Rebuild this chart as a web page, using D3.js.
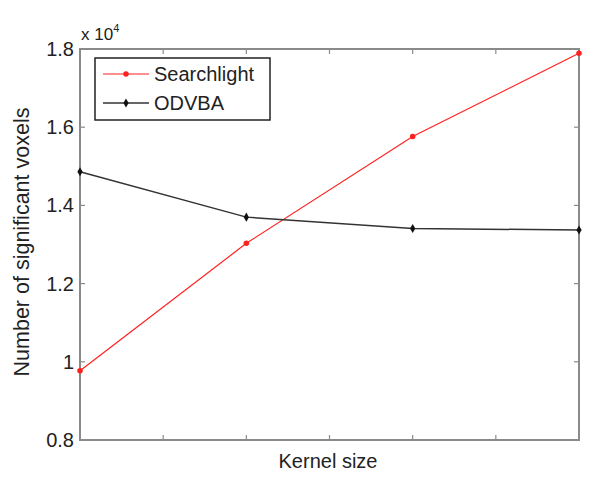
<!DOCTYPE html>
<html>
<head>
<meta charset="utf-8">
<script src="https://cdn.jsdelivr.net/npm/d3@7"></script>
<style>
  body { margin: 0; background: #fff; }
  text { font-family: "Liberation Sans", Arial, sans-serif; fill: #222; }
</style>
</head>
<body>
<div id="chart"></div>
<script>
// data (y values in units of 10^4)
var kernelSizes = [1, 2, 3, 4];
var searchlight = [0.977, 1.303, 1.576, 1.789];
var odvba = [1.486, 1.370, 1.341, 1.337];
var yTicks = [0.8, 1, 1.2, 1.4, 1.6, 1.8];
var xTicks = [1, 1.5, 2, 2.5, 3, 3.5, 4];

var width = 600, height = 485;
var plotLeft = 80, plotRight = 579, plotTop = 49, plotBottom = 440;

var svg = d3.select("#chart").append("svg")
    .attr("width", width)
    .attr("height", height);

var x = d3.scaleLinear().domain([1, 4]).range([plotLeft, plotRight]);
var y = d3.scaleLinear().domain([0.8, 1.8]).range([plotBottom, plotTop]);

var axisColor = "#8a8a8a";

// box
svg.append("rect")
    .attr("x", plotLeft).attr("y", plotTop)
    .attr("width", plotRight - plotLeft).attr("height", plotBottom - plotTop)
    .attr("fill", "none")
    .attr("stroke", axisColor)
    .attr("stroke-width", 2);

// ticks (inward, matlab style)
var tickLen = 5;
xTicks.slice(1, -1).forEach(function(t) {
    svg.append("line").attr("x1", x(t)).attr("x2", x(t))
        .attr("y1", plotBottom).attr("y2", plotBottom - tickLen)
        .attr("stroke", axisColor).attr("stroke-width", 1.2);
    svg.append("line").attr("x1", x(t)).attr("x2", x(t))
        .attr("y1", plotTop).attr("y2", plotTop + tickLen)
        .attr("stroke", axisColor).attr("stroke-width", 1.2);
});
yTicks.slice(1, -1).forEach(function(t) {
    svg.append("line").attr("x1", plotLeft).attr("x2", plotLeft + tickLen)
        .attr("y1", y(t)).attr("y2", y(t))
        .attr("stroke", axisColor).attr("stroke-width", 1.2);
    svg.append("line").attr("x1", plotRight).attr("x2", plotRight - tickLen)
        .attr("y1", y(t)).attr("y2", y(t))
        .attr("stroke", axisColor).attr("stroke-width", 1.2);
});

// y tick labels
svg.selectAll(".ylab")
    .data(yTicks)
    .enter().append("text")
    .attr("class", "ylab")
    .attr("x", plotLeft - 6)
    .attr("y", function(d) { return y(d); })
    .attr("dy", "0.35em")
    .attr("text-anchor", "end")
    .attr("font-size", "20px")
    .text(function(d) { return d; });

// exponent
svg.append("text")
    .attr("x", plotLeft + 1).attr("y", plotTop - 9)
    .attr("font-size", "17px")
    .text("x 10")
    .append("tspan")
    .attr("dy", -8)
    .attr("font-size", "11px")
    .text("4");

// axis titles
svg.append("text")
    .attr("x", 328)
    .attr("y", 468)
    .attr("text-anchor", "middle")
    .attr("font-size", "20px")
    .text("Kernel size");

svg.append("text")
    .attr("transform", "translate(29,242) rotate(-90)")
    .attr("text-anchor", "middle")
    .attr("font-size", "21.5px")
    .text("Number of significant voxels");

// lines
var line = d3.line()
    .x(function(d, i) { return x(kernelSizes[i]); })
    .y(function(d) { return y(d); });

var series = [
    { name: "Searchlight", values: searchlight, color: "#ff2020", marker: "circle" },
    { name: "ODVBA", values: odvba, color: "#333333", marker: "diamond" }
];

function marker(s) {
    return s.marker == "circle"
        ? d3.symbol().type(d3.symbolCircle).size(24)()
        : d3.symbol().type(d3.symbolDiamond).size(24)();
}

series.forEach(function(s) {
    svg.append("path")
        .datum(s.values)
        .attr("d", line)
        .attr("fill", "none")
        .attr("stroke", s.color)
        .attr("stroke-width", s.marker == "circle" ? 1.2 : 1.5);
    svg.selectAll(".m-" + s.name)
        .data(s.values)
        .enter().append("path")
        .attr("transform", function(d, i) { return "translate(" + x(kernelSizes[i]) + "," + y(d) + ")"; })
        .attr("d", marker(s))
        .attr("fill", s.color == "#333333" ? "#111" : s.color);
});

// legend
var lg = svg.append("g");
lg.append("rect")
    .attr("x", 95).attr("y", 58)
    .attr("width", 175).attr("height", 62)
    .attr("fill", "#fff")
    .attr("stroke", "#222")
    .attr("stroke-width", 1.5);

series.forEach(function(s, i) {
    var ly = 74 + i * 29;
    lg.append("line")
        .attr("x1", 103).attr("x2", 149)
        .attr("y1", ly).attr("y2", ly)
        .attr("stroke", s.color)
        .attr("stroke-width", s.marker == "circle" ? 1.2 : 1.5);
    lg.append("path")
        .attr("transform", "translate(126," + ly + ")")
        .attr("d", marker(s))
        .attr("fill", s.color == "#333333" ? "#111" : s.color);
    lg.append("text")
        .attr("x", 154).attr("y", ly)
        .attr("dy", "0.35em")
        .attr("font-size", "20px")
        .text(s.name);
});
</script>
</body>
</html>
